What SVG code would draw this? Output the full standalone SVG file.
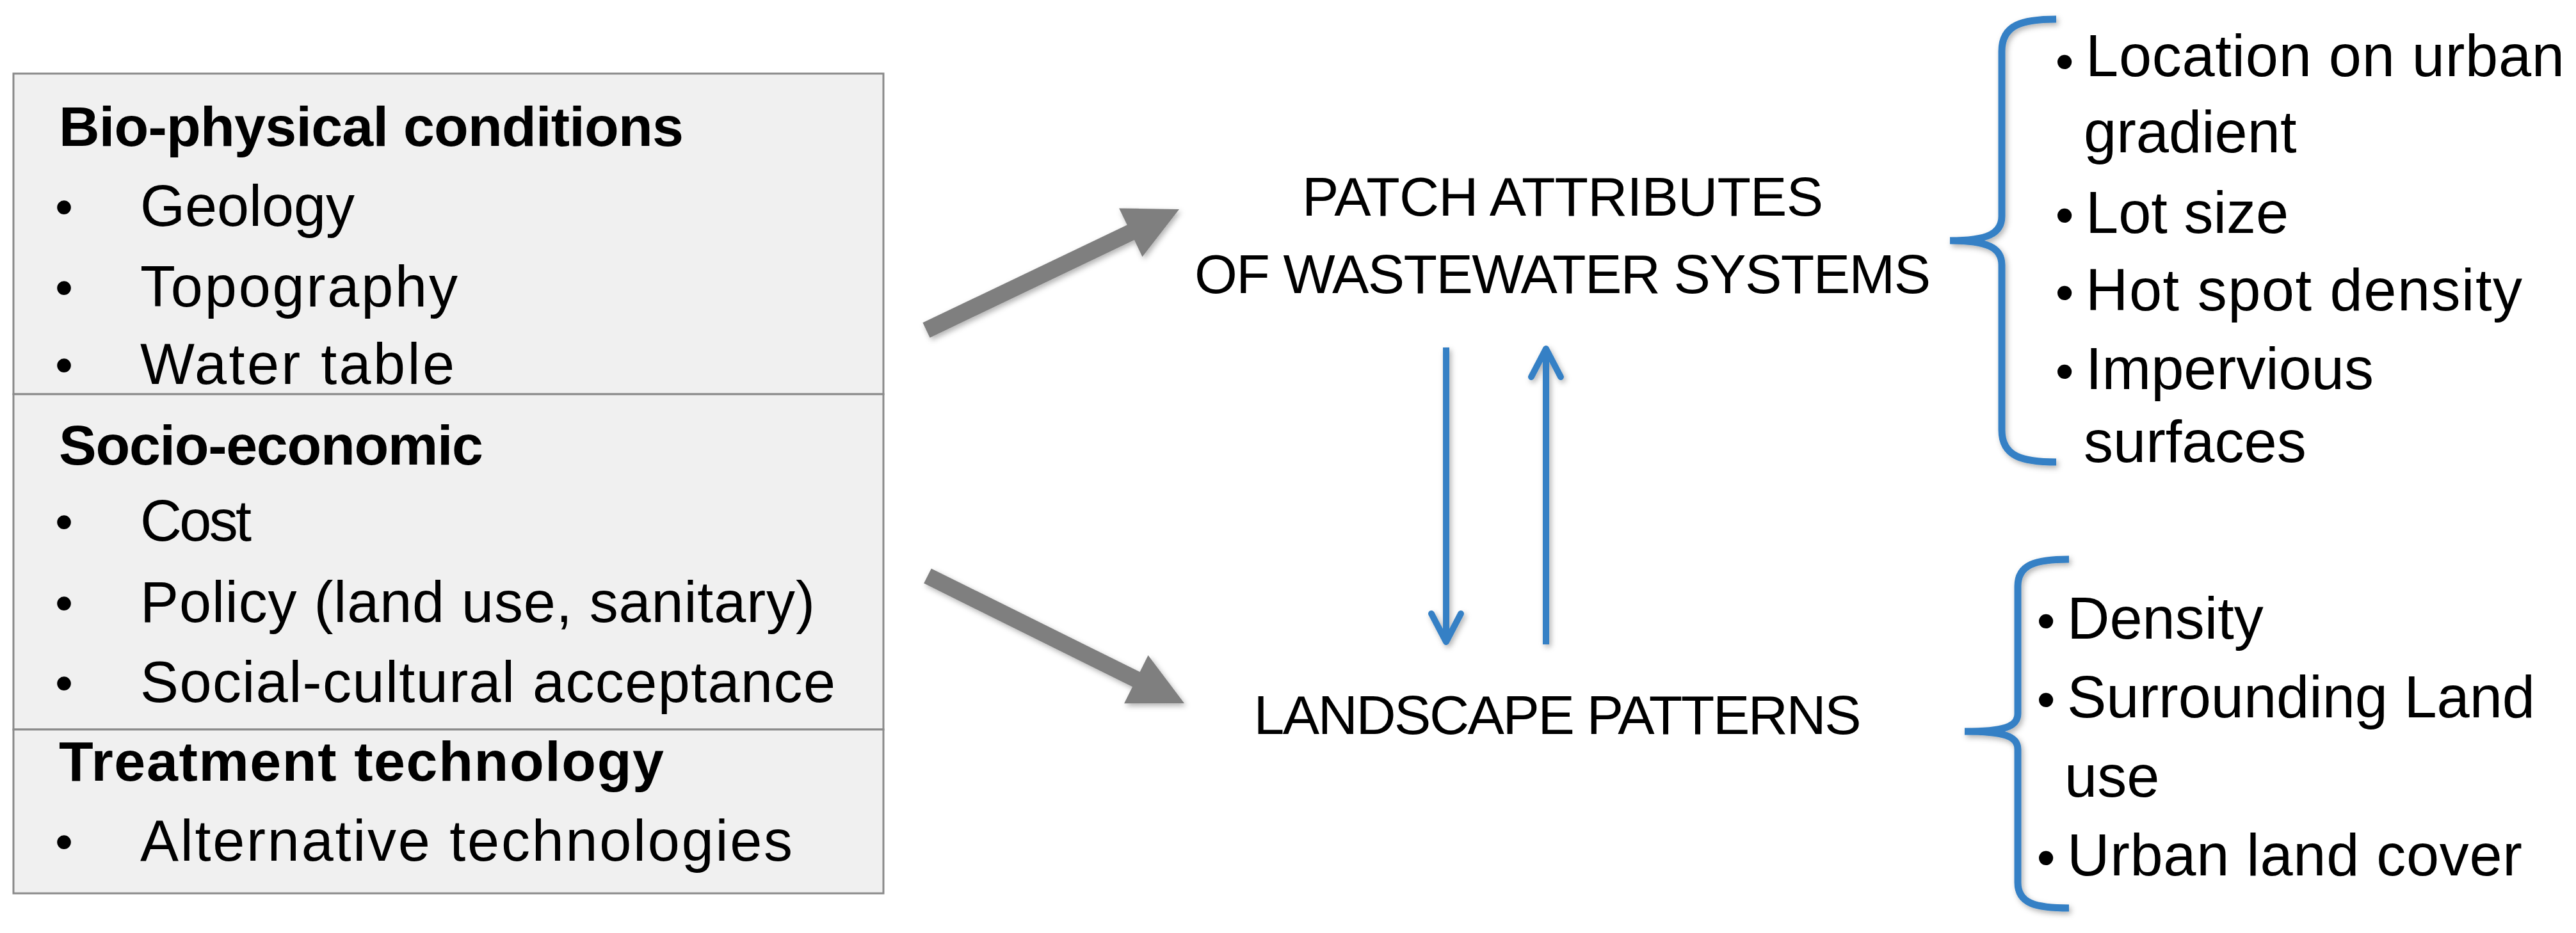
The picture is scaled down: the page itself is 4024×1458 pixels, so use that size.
<svg xmlns="http://www.w3.org/2000/svg" width="4024" height="1458" viewBox="0 0 4024 1458">
<style>
  text { font-family: "Liberation Sans", Arial, sans-serif; fill: #000; }
  .head { font-weight: bold; font-size: 88px; }
  .item { font-size: 90px; }
  .bul { font-size: 80px; }
  .mid { font-size: 86px; text-anchor: middle; }
  .rt { font-size: 92px; }
  .rbul { font-size: 82px; text-anchor: middle; }
  .sect { fill: #f0f0f0; stroke: #8a8a8a; stroke-width: 3; }
  .gray { fill: #7f7f7f; }
  .blue { fill: none; stroke: #3580c5; stroke-width: 10; }
  .brace { fill: none; stroke: #3580c5; stroke-width: 11; }
</style>
<defs>
  <filter id="sh" filterUnits="userSpaceOnUse" x="0" y="0" width="4024" height="1458">
    <feDropShadow dx="3" dy="4" stdDeviation="4" flood-color="#000" flood-opacity="0.3"/>
  </filter>
  <marker id="vhead" markerUnits="userSpaceOnUse" viewBox="-60 -35 70 70" markerWidth="70" markerHeight="70" refX="0" refY="0" orient="auto">
    <path d="M -44 -23 L 0 0 L -44 23" fill="none" stroke="#3580c5" stroke-width="10" stroke-linecap="round" stroke-linejoin="round"/>
  </marker>
</defs>
<rect width="4024" height="1458" fill="#fff"/>

<g id="bio-physical">
  <rect class="sect" x="21" y="115" width="1359" height="501"/>
  <text class="head" x="92" y="228" textLength="976">Bio-physical conditions</text>
  <text class="bul" x="86" y="351">•</text>
  <text class="item" x="219" y="353" textLength="335">Geology</text>
  <text class="bul" x="86" y="477">•</text>
  <text class="item" x="219" y="479" textLength="496">Topography</text>
  <text class="bul" x="86" y="598">•</text>
  <text class="item" x="219" y="600" textLength="491">Water table</text>
</g>
<g id="socio-economic">
  <rect class="sect" x="21" y="616" width="1359" height="524"/>
  <text class="head" x="92" y="726" textLength="663">Socio-economic</text>
  <text class="bul" x="86" y="843">•</text>
  <text class="item" x="219" y="845" textLength="174">Cost</text>
  <text class="bul" x="86" y="970">•</text>
  <text class="item" x="219" y="972" textLength="1054">Policy (land use, sanitary)</text>
  <text class="bul" x="86" y="1095">•</text>
  <text class="item" x="219" y="1097" textLength="1086">Social-cultural acceptance</text>
</g>
<g id="treatment">
  <rect class="sect" x="21" y="1140" width="1359" height="256"/>
  <text class="head" x="92" y="1220" textLength="945">Treatment technology</text>
  <text class="bul" x="86" y="1343">•</text>
  <text class="item" x="219" y="1345" textLength="1019">Alternative technologies</text>
</g>

<g id="patch-attributes">
  <text class="mid" x="2441" y="337" textLength="814">PATCH ATTRIBUTES</text>
  <text class="mid" x="2441" y="458" textLength="1150">OF WASTEWATER SYSTEMS</text>
</g>
<g id="landscape-patterns">
  <text class="mid" x="2433" y="1147" textLength="949">LANDSCAPE PATTERNS</text>
</g>

<g id="patch-list">
  <path class="brace" filter="url(#sh)" d="M 3212 30 C 3160 30 3127 38 3127 80 L 3127 338 C 3127 365 3105 376 3046 376 C 3105 376 3127 387 3127 414 L 3127 672 C 3127 714 3160 722 3212 722"/>
  <text class="rbul" x="3225" y="124">•</text>
  <text class="rt" x="3258" y="119" textLength="748">Location on urban</text>
  <text class="rt" x="3255" y="238">gradient</text>
  <text class="rbul" x="3225" y="364">•</text>
  <text class="rt" x="3258" y="364">Lot size</text>
  <text class="rbul" x="3225" y="485">•</text>
  <text class="rt" x="3258" y="485" textLength="682">Hot spot density</text>
  <text class="rbul" x="3225" y="608">•</text>
  <text class="rt" x="3258" y="608">Impervious</text>
  <text class="rt" x="3255" y="722">surfaces</text>
</g>
<g id="landscape-list">
  <path class="brace" filter="url(#sh)" d="M 3232 874 C 3180 874 3152 882 3152 916 L 3152 1115 C 3152 1136 3130 1143 3069 1143 C 3130 1143 3152 1150 3152 1171 L 3152 1379 C 3152 1412 3180 1419 3232 1419"/>
  <text class="rbul" x="3196" y="998">•</text>
  <text class="rt" x="3229" y="998">Density</text>
  <text class="rbul" x="3196" y="1121">•</text>
  <text class="rt" x="3229" y="1121" textLength="731">Surrounding Land</text>
  <text class="rt" x="3225" y="1245">use</text>
  <text class="rbul" x="3196" y="1368">•</text>
  <text class="rt" x="3229" y="1368" textLength="711">Urban land cover</text>
</g>

<g id="connectors">
  <polygon class="gray" filter="url(#sh)" points="1441.4,504.3 1760.7,351.6 1748.1,325.4 1842,327 1784.5,401.2 1771.9,375.0 1452.6,527.7"/>
  <polygon class="gray" filter="url(#sh)" points="1454.8,888.4 1780.6,1050.1 1793.5,1024.1 1850,1099 1756.1,1099.3 1769.0,1073.3 1443.2,911.6"/>
  <path class="blue" filter="url(#sh)" d="M 2259 543 L 2259 1003" marker-end="url(#vhead)"/>
  <path class="blue" filter="url(#sh)" d="M 2415 1007 L 2415 545" marker-end="url(#vhead)"/>
</g>
</svg>
